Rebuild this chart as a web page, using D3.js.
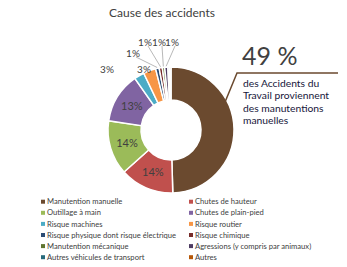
<!DOCTYPE html>
<html>
<head>
<meta charset="utf-8">
<script src="https://cdn.jsdelivr.net/npm/d3@7"></script>
<style>
  body { margin: 0; background: #fff; }
  svg { font-family: Lato, "Noto Sans", sans-serif; }
</style>
</head>
<body>
<svg id="chart" width="347" height="267"></svg>
<script>
// data
const categories = [
  'Manutention manuelle', 'Chutes de hauteur', 'Outillage à main', 'Chutes de plain-pied',
  'Risque machines', 'Risque routier', 'Risque physique dont risque électrique', 'Risque chimique',
  'Manutention mécanique', 'Agressions (y compris par animaux)', 'Autres véhicules de transport', 'Autres'
];
const values = [49.4, 13.8, 13.9, 12.9, 2.6, 3.2, 0.9, 0.8, 0.6, 0.8, 0.4, 0.4];
const colors = [
  '#6b4a2f', '#c0504d', '#9bbb59', '#8064a2', '#4bacc6', '#f79646',
  '#2c4d75', '#772c2a', '#5f7530', '#4d3b62', '#276a7c', '#b65708'
];
const calloutValue = '49 %';
const calloutLines = ['des Accidents du', 'Travail proviennent', 'des manutentions', 'manuelles'];

const svg = d3.select('#chart');
const cx = 171, cy = 130, outerR = 63, innerR = 30;

svg.append('text')
  .attr('x', 162).attr('y', 17)
  .attr('text-anchor', 'middle')
  .attr('font-size', 12)
  .attr('fill', '#404040')
  .text('Cause des accidents');

const pie = d3.pie().sort(null).value(d => d);
const arcs = pie(values);
const arc = d3.arc().innerRadius(innerR).outerRadius(outerR);
const fmt = d3.format('.0%');
const total = d3.sum(values);

const g = svg.append('g').attr('transform', `translate(${cx},${cy})`);

g.selectAll('path.slice')
  .data(arcs)
  .join('path')
  .attr('class', 'slice')
  .attr('d', arc)
  .attr('fill', (d, i) => colors[i])
  .attr('stroke', '#fff')
  .attr('stroke-width', 1.5);

// inside labels for big slices
const midArc = d3.arc().innerRadius(46).outerRadius(46);
g.selectAll('text.inlbl')
  .data(arcs.filter((d, i) => i >= 1 && i <= 3))
  .join('text')
  .attr('class', 'inlbl')
  .attr('transform', d => `translate(${midArc.centroid(d)})`)
  .attr('text-anchor', 'middle')
  .attr('dy', '0.35em')
  .attr('font-size', 11)
  .attr('fill', '#404040')
  .text(d => fmt(d.data / total));

// outside labels for small slices
const small = arcs.filter((d, i) => i >= 4 && Math.round(d.data / total * 100) >= 1);
const labelPos = [[-64, -61], [-27, -61], [-38, -77], [-26, -88], [-12, -88], [1, -88]];
const edgeArc = d3.arc().innerRadius(outerR + 1).outerRadius(outerR + 1);
small.forEach((d, k) => {
  const [lx, ly] = labelPos[k];
  const [ex, ey] = edgeArc.centroid(d);
  if (k >= 2) {
    g.append('line')
      .attr('x1', lx + 3).attr('y1', ly + 4)
      .attr('x2', ex).attr('y2', ey)
      .attr('stroke', '#a6a6a6')
      .attr('stroke-width', 0.8);
  }
  g.append('text')
    .attr('x', lx).attr('y', ly)
    .attr('text-anchor', 'middle')
    .attr('dy', '0.35em')
    .attr('font-size', 10)
    .attr('fill', '#404040')
    .text(fmt(d.data / total));
});

// callout
svg.append('path')
  .attr('d', 'M223,107 L237,73 L338,73')
  .attr('fill', 'none')
  .attr('stroke', colors[0])
  .attr('stroke-width', 1.5);

svg.append('text')
  .attr('x', 242).attr('y', 65)
  .attr('font-size', 25)
  .attr('fill', '#404040')
  .text(calloutValue);

svg.append('text')
  .attr('font-size', 10.3)
  .attr('fill', '#16163a')
  .selectAll('tspan')
  .data(calloutLines)
  .join('tspan')
  .attr('x', 243)
  .attr('y', (d, i) => 87 + i * 12.3)
  .text(d => d);

// legend
const legend = svg.append('g');
const item = legend.selectAll('g')
  .data(categories)
  .join('g')
  .attr('transform', (d, i) => `translate(${i % 2 ? 189 : 41},${201.7 + Math.floor(i / 2) * 11.1})`);
item.append('rect')
  .attr('x', 0).attr('y', -2)
  .attr('width', 4).attr('height', 4)
  .attr('fill', (d, i) => colors[i]);
item.append('text')
  .attr('x', 6).attr('dy', '0.35em')
  .attr('font-size', 7.6)
  .attr('fill', '#404040')
  .text(d => d);
</script>
</body>
</html>
